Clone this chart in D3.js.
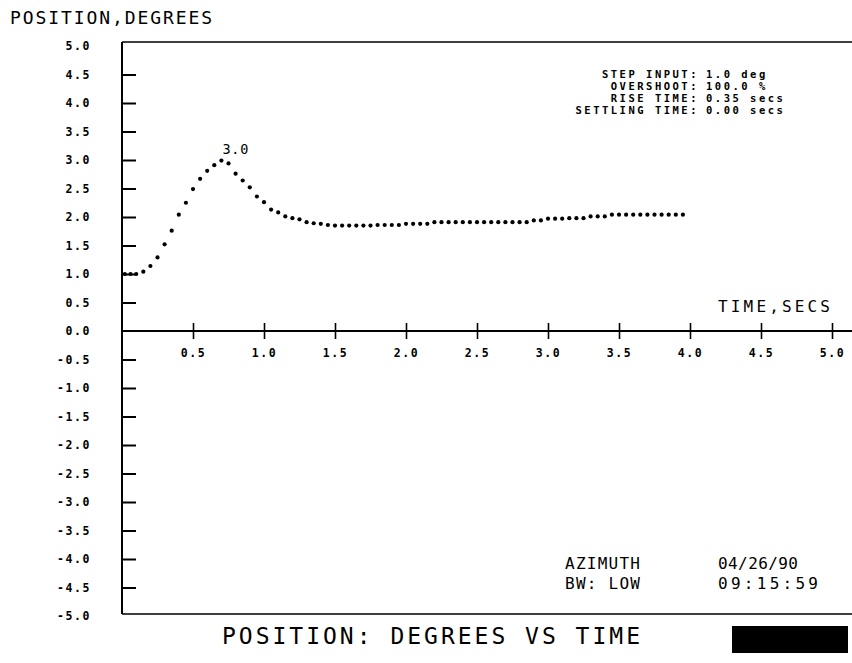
<!DOCTYPE html>
<html>
<head>
<meta charset="utf-8">
<script src="https://cdn.jsdelivr.net/npm/d3@7"></script>
<style>
  body { margin: 0; background: #fff; }
  svg text { font-family: "DejaVu Sans Mono", monospace; fill: #000; }
</style>
</head>
<body>
<div id="chart"></div>
<script>
const timeSecs = [0.02, 0.06, 0.10, 0.15, 0.20, 0.25, 0.30, 0.35, 0.40, 0.45,
    0.50, 0.55, 0.60, 0.65, 0.70, 0.75, 0.80, 0.85, 0.90, 0.95,
    1.00, 1.05, 1.10, 1.15, 1.20, 1.25, 1.30, 1.35, 1.40, 1.45,
    1.50, 1.55, 1.60, 1.65, 1.70, 1.75, 1.80, 1.85, 1.90, 1.95,
    2.00, 2.05, 2.10, 2.15, 2.20, 2.25, 2.30, 2.35, 2.40, 2.45,
    2.50, 2.55, 2.60, 2.65, 2.70, 2.75, 2.80, 2.85, 2.90, 2.95,
    3.00, 3.05, 3.10, 3.15, 3.20, 3.25, 3.30, 3.35, 3.40, 3.45,
    3.50, 3.55, 3.60, 3.65, 3.70, 3.75, 3.80, 3.85, 3.90, 3.95];
const positionDeg = [1.00, 1.00, 1.00, 1.04, 1.14, 1.29, 1.52, 1.76, 2.04, 2.25,
    2.49, 2.67, 2.81, 2.91, 2.99, 2.94, 2.76, 2.64, 2.52, 2.36,
    2.26, 2.13, 2.08, 2.01, 1.98, 1.96, 1.91, 1.89, 1.88, 1.86,
    1.85, 1.85, 1.85, 1.85, 1.85, 1.85, 1.86, 1.86, 1.86, 1.86,
    1.88, 1.88, 1.88, 1.88, 1.91, 1.91, 1.91, 1.91, 1.91, 1.91,
    1.91, 1.91, 1.91, 1.91, 1.91, 1.91, 1.91, 1.91, 1.94, 1.94,
    1.97, 1.97, 1.97, 1.98, 1.98, 1.98, 2.01, 2.01, 2.01, 2.04,
    2.04, 2.04, 2.04, 2.04, 2.04, 2.04, 2.04, 2.04, 2.04, 2.04];

const xTicks = [0.5, 1.0, 1.5, 2.0, 2.5, 3.0, 3.5, 4.0, 4.5, 5.0];
const yTicks = [5.0, 4.5, 4.0, 3.5, 3.0, 2.5, 2.0, 1.5, 1.0, 0.5, 0.0,
    -0.5, -1.0, -1.5, -2.0, -2.5, -3.0, -3.5, -4.0, -4.5, -5.0];

const peakLabel = "3.0";
const infoLabels = ["STEP INPUT:", "OVERSHOOT:", "RISE TIME:", "SETTLING TIME:"];
const infoValues = ["1.0 deg", "100.0 %", "0.35 secs", "0.00 secs"];

const width = 852, height = 663;
const svg = d3.select("#chart").append("svg")
    .attr("width", width)
    .attr("height", height);

const x = d3.scaleLinear().domain([0, 5]).range([122, 832]);
const y = d3.scaleLinear().domain([-5, 5]).range([616, 46]);

const frameTop = 42, frameBottom = 614;

// frame lines (top and bottom), right side runs off the page
svg.append("line")
    .attr("x1", x(0)).attr("x2", width)
    .attr("y1", frameTop).attr("y2", frameTop)
    .attr("stroke", "#000").attr("stroke-width", 1.6);
svg.append("line")
    .attr("x1", x(0)).attr("x2", width)
    .attr("y1", frameBottom).attr("y2", frameBottom)
    .attr("stroke", "#000").attr("stroke-width", 1.6);

// y axis: ticks point inward, labels far left
let yAxis = svg.append("g")
    .attr("transform", `translate(${x(0)},0)`)
    .call(d3.axisLeft(y)
        .tickValues(yTicks)
        .tickSizeInner(-14)
        .tickSizeOuter(0)
        .tickPadding(31)
        .tickFormat(d => d.toFixed(1)));
yAxis.select(".domain")
    .attr("d", `M0,${frameTop}V${frameBottom}`)
    .attr("stroke-width", 2);
yAxis.selectAll(".tick line").attr("stroke-width", 2);
// 0 is the time axis, +-5 sit on the frame
yAxis.selectAll(".tick").filter(d => d === 0 || Math.abs(d) === 5).select("line").remove();
yAxis.selectAll(".tick text")
    .style("font-size", "11.5px")
    .style("font-weight", "bold")
    .style("letter-spacing", "1.6px");

// x axis along y = 0, ticks cross the line
let xAxis = svg.append("g")
    .attr("transform", `translate(0,${y(0)})`)
    .call(d3.axisBottom(x)
        .tickValues(xTicks)
        .tickSizeOuter(0)
        .tickFormat(d => d.toFixed(1)));
xAxis.select(".domain")
    .attr("d", `M${x(0)},0H${width}`)
    .attr("stroke-width", 2);
xAxis.selectAll(".tick line")
    .attr("y1", -8).attr("y2", 8)
    .attr("stroke-width", 1.6);
xAxis.selectAll(".tick text")
    .attr("y", 26).attr("dy", 0)
    .style("font-size", "11.5px")
    .style("font-weight", "bold")
    .style("letter-spacing", "1.6px");

// dotted response
svg.append("g").selectAll("circle")
    .data(timeSecs)
    .join("circle")
    .attr("cx", d => x(d))
    .attr("cy", (d, i) => y(positionDeg[i]))
    .attr("r", 2.1)
    .attr("fill", "#000");

// peak label
let peakIdx = d3.maxIndex(positionDeg);
svg.append("text")
    .attr("x", x(timeSecs[peakIdx]) + 14)
    .attr("y", y(positionDeg[peakIdx]) - 7)
    .attr("text-anchor", "middle")
    .attr("textLength", 26)
    .style("font-size", "13.5px")
    .text(peakLabel);

// titles and captions
svg.append("text")
    .attr("x", 10).attr("y", 23.5)
    .attr("textLength", 202)
    .style("font-size", "18px")
    .text("POSITION,DEGREES");

svg.append("text")
    .attr("x", 718).attr("y", 311.5)
    .attr("textLength", 112)
    .style("font-size", "16px")
    .text("TIME,SECS");

// info block, colons lined up
let info = svg.append("g")
    .style("font-size", "10.5px")
    .style("font-weight", "bold")
    .style("letter-spacing", "2.5px");
info.selectAll("text.lbl")
    .data(infoLabels)
    .join("text")
    .attr("class", "lbl")
    .attr("x", 699)
    .attr("y", (d, i) => 77.5 + i * 12.2)
    .attr("text-anchor", "end")
    .text(d => d);
info.selectAll("text.val")
    .data(infoValues)
    .join("text")
    .attr("class", "val")
    .attr("x", 706)
    .attr("y", (d, i) => 77.5 + i * 12.2)
    .text(d => d);

// bottom-right station block
const stamp = [
    {t: "AZIMUTH", x: 565, y: 568.5, len: 75},
    {t: "04/26/90", x: 718, y: 568.5, len: 80},
    {t: "BW: LOW", x: 565, y: 588.5, len: 75},
    {t: "09:15:59", x: 718, y: 588.5, len: 100}
];
svg.append("g").selectAll("text")
    .data(stamp)
    .join("text")
    .attr("x", d => d.x)
    .attr("y", d => d.y)
    .attr("textLength", d => d.len)
    .style("font-size", "16px")
    .text(d => d.t);

svg.append("text")
    .attr("x", 222).attr("y", 643.5)
    .attr("textLength", 418)
    .style("font-size", "23px")
    .text("POSITION: DEGREES VS TIME");

// black id block at bottom right
svg.append("rect")
    .attr("x", 732).attr("y", 626)
    .attr("width", 116).attr("height", 27)
    .attr("fill", "#000");
</script>
</body>
</html>
